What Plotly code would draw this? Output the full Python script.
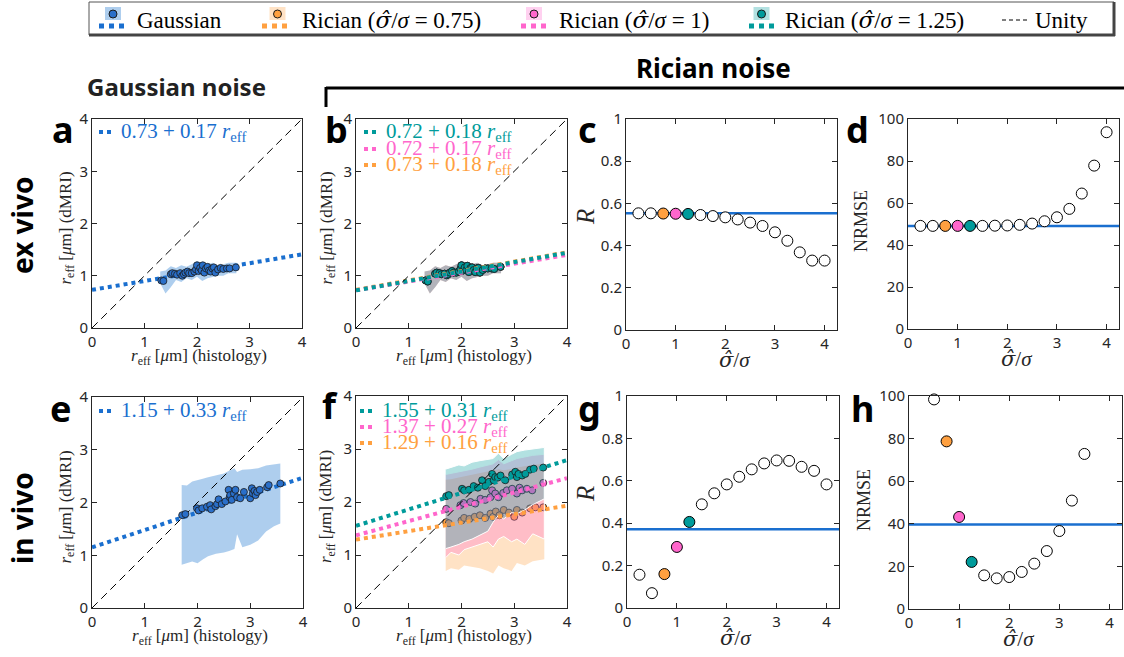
import numpy as np
import plotly.graph_objects as go

W, H = 1124, 657

# ---------------- data ----------------
# ex vivo: histology r_eff vs dMRI r_eff (Gaussian noise)
hist_ex = [1.32, 1.36, 1.50, 1.53, 1.58, 1.62, 1.68, 1.72, 1.75, 1.78, 1.82, 1.85,
           1.90, 1.95, 1.98, 2.00, 2.03, 2.06, 2.09, 2.11, 2.14, 2.17, 2.20, 2.23,
           2.26, 2.29, 2.32, 2.35, 2.40, 2.45, 2.50, 2.57, 2.62, 2.74]
gauss_ex = [0.91, 0.90, 1.03, 1.05, 1.04, 1.02, 1.05, 1.00, 1.03, 1.06, 1.08, 1.05,
            1.05, 1.08, 1.12, 1.20, 1.09, 1.15, 1.10, 1.20, 1.06, 1.14, 1.17, 1.10,
            1.08, 1.14, 1.16, 1.06, 1.12, 1.15, 1.13, 1.14, 1.14, 1.16]
rician_ex = [0.91, 0.89, 1.04, 1.06, 1.05, 1.03, 1.04, 1.01, 1.03, 1.06, 1.09, 1.06,
             1.06, 1.08, 1.13, 1.20, 1.10, 1.16, 1.11, 1.19, 1.07, 1.15, 1.16, 1.11,
             1.07, 1.14, 1.15, 1.06, 1.11, 1.14, 1.14, 1.14, 1.13, 1.17]
band_ex_x = [1.30, 1.40, 1.50, 1.60, 1.70, 1.80, 1.90, 2.00, 2.10, 2.20, 2.30, 2.40, 2.50, 2.60, 2.75]
band_ex_hi = [1.08, 1.10, 1.18, 1.15, 1.20, 1.17, 1.22, 1.28, 1.25, 1.22, 1.25, 1.20, 1.22, 1.25, 1.25]
band_ex_lo = [0.85, 0.66, 0.78, 0.92, 0.88, 0.95, 0.92, 0.98, 0.90, 0.95, 0.98, 1.00, 1.00, 1.05, 1.05]

# in vivo
hist_iv = [1.71, 1.77, 1.99, 2.02, 2.09, 2.18, 2.24, 2.26, 2.34, 2.37, 2.40, 2.46,
           2.53, 2.59, 2.61, 2.62, 2.65, 2.69, 2.72, 2.75, 2.81, 2.88, 3.00, 3.03,
           3.05, 3.08, 3.10, 3.13, 3.18, 3.32, 3.35, 3.57]
gauss_iv = [1.76, 1.78, 1.89, 1.85, 1.89, 1.92, 1.95, 1.87, 1.93, 1.97, 2.06, 1.97,
            2.02, 2.24, 2.10, 2.14, 2.05, 2.17, 2.24, 2.10, 2.08, 2.20, 2.08, 2.27,
            2.17, 2.22, 2.14, 2.20, 2.24, 2.29, 2.33, 2.36]
band_iv_x = [1.70, 1.80, 1.90, 2.00, 2.10, 2.20, 2.35, 2.50, 2.60, 2.70, 2.75, 2.85, 3.00, 3.15, 3.30, 3.45, 3.57]
band_iv_hi = [2.33, 2.32, 2.40, 2.42, 2.45, 2.48, 2.52, 2.55, 2.60, 2.65, 2.58, 2.62, 2.63, 2.65, 2.70, 2.72, 2.74]
band_iv_lo = [0.82, 0.85, 0.88, 0.85, 0.92, 0.98, 1.03, 1.05, 1.08, 1.12, 1.40, 1.15, 1.20, 1.28, 1.45, 1.55, 1.60]

ric125_x = [1.71, 1.76, 2.01, 2.05, 2.14, 2.23, 2.31, 2.39, 2.45, 2.52, 2.58, 2.61, 2.64,
            2.69, 2.74, 2.83, 2.96, 3.02, 3.05, 3.08, 3.15, 3.21, 3.30, 3.37, 3.55]
ric125_y = [2.11, 2.13, 2.25, 2.22, 2.23, 2.30, 2.27, 2.41, 2.30, 2.38, 2.53, 2.41, 2.47,
            2.46, 2.50, 2.41, 2.52, 2.57, 2.47, 2.53, 2.50, 2.53, 2.61, 2.63, 2.65]
ric100_x = [1.71, 1.98, 2.04, 2.17, 2.26, 2.36, 2.45, 2.55, 2.58, 2.64, 2.70, 2.79, 2.86,
            2.96, 3.05, 3.10, 3.15, 3.24, 3.34, 3.55]
ric100_y = [1.87, 1.94, 1.98, 2.00, 1.97, 2.06, 2.04, 2.09, 2.22, 2.16, 2.09, 2.17, 2.22,
            2.25, 2.16, 2.27, 2.22, 2.25, 2.22, 2.36]
ric075_x = [1.71, 1.76, 2.00, 2.05, 2.15, 2.25, 2.35, 2.45, 2.55, 2.60, 2.65, 2.72, 2.80,
            2.90, 3.00, 3.05, 3.15, 3.30, 3.40, 3.55]
ric075_y = [1.62, 1.60, 1.65, 1.70, 1.68, 1.72, 1.75, 1.70, 1.78, 1.72, 1.82, 1.75, 1.85,
            1.80, 1.72, 1.85, 1.80, 1.88, 1.90, 1.90]
band_f_x = [1.70, 1.80, 1.95, 2.05, 2.20, 2.35, 2.50, 2.60, 2.70, 2.80, 2.95, 3.05, 3.20, 3.35, 3.57]
band125_hi = [2.62, 2.65, 2.70, 2.68, 2.75, 2.78, 2.80, 2.82, 2.92, 2.82, 2.90, 2.95, 2.98, 3.00, 3.03]
band125_lo = [1.12, 1.15, 1.20, 1.25, 1.30, 1.38, 1.45, 1.62, 1.75, 1.68, 1.80, 1.78, 1.85, 1.95, 2.06]
band100_hi = [2.52, 2.54, 2.57, 2.58, 2.62, 2.66, 2.70, 2.72, 2.80, 2.72, 2.78, 2.82, 2.85, 2.88, 2.90]
band100_lo = [0.95, 1.05, 1.00, 1.10, 1.15, 1.20, 1.25, 1.15, 1.30, 1.35, 1.25, 1.30, 1.20, 1.40, 1.30]
band075_hi = [2.42, 2.43, 2.46, 2.48, 2.52, 2.55, 2.58, 2.60, 2.62, 2.60, 2.62, 2.65, 2.68, 2.70, 2.72]
band075_lo = [0.70, 0.75, 0.72, 0.80, 0.78, 0.75, 0.70, 0.65, 0.80, 0.75, 0.70, 0.85, 0.80, 0.88, 0.92]

# linear fits: (intercept, slope)
fit_a = (0.73, 0.17)
fit_b = {"1.25": (0.72, 0.18), "1": (0.72, 0.17), "0.75": (0.73, 0.18)}
fit_e = (1.15, 0.33)
fit_f = {"1.25": (1.55, 0.31), "1": (1.37, 0.27), "0.75": (1.29, 0.16)}

# correlation / error vs noise ratio
ratio = [0.25, 0.5, 0.75, 1.0, 1.25, 1.5, 1.75, 2.0, 2.25, 2.5, 2.75, 3.0, 3.25, 3.5, 3.75, 4.0]
R_ex = [0.553, 0.553, 0.552, 0.551, 0.550, 0.545, 0.540, 0.534, 0.524, 0.509, 0.493, 0.463, 0.423, 0.368, 0.329, 0.329]
R_ex_gauss = 0.553
NRMSE_ex = [49.1, 49.1, 49.1, 49.1, 49.1, 49.1, 49.2, 49.3, 49.6, 50.2, 51.3, 53.2, 57.2, 64.5, 77.8, 93.7]
NRMSE_ex_gauss = 49.0
R_iv = [0.157, 0.070, 0.160, 0.288, 0.406, 0.489, 0.541, 0.583, 0.619, 0.654, 0.682, 0.696, 0.694, 0.666, 0.647, 0.583]
R_iv_gauss = 0.372
ratio_h = [0.5, 0.75, 1.0, 1.25, 1.5, 1.75, 2.0, 2.25, 2.5, 2.75, 3.0, 3.25, 3.5]
NRMSE_iv = [98.4, 78.7, 43.2, 22.1, 15.8, 14.4, 15.0, 17.4, 21.3, 27.2, 36.6, 50.9, 72.8]
NRMSE_iv_gauss = 39.7

# ---------------- styling ----------------
BLUE = "#1a6fcf"
BLUE_PT = "#2a6fc9"
TEAL = "#009b9b"
PINK = "#ff66cc"
ORANGE = "#ffa040"
BAND_BLUE = "rgba(31,119,208,0.36)"
BAND_TEAL = "rgba(0,155,155,0.30)"
BAND_PINK = "rgba(255,102,204,0.30)"
BAND_ORANGE = "rgba(255,160,64,0.30)"
INK = "#262626"
SERIF = "Liberation Serif"
SANS = "Noto Sans"

def fx(px):
    return px / W

def fy(py):
    return 1 - py / H

# axis boxes in pixel coordinates: (left, right, top, bottom)
boxes = {
    1: (92, 302, 119, 328),
    2: (356, 567, 119, 328),
    3: (626, 837, 119, 330),
    4: (908, 1119, 119, 329),
    5: (92, 303, 397, 608),
    6: (356, 567, 396, 608),
    7: (627, 839, 396, 608),
    8: (909, 1122, 396, 609),
}
ranges = {
    1: ([0, 4], [0, 4], 1, 1),
    2: ([0, 4], [0, 4], 1, 1),
    3: ([0, 4.25], [0, 1], 1, 0.2),
    4: ([0, 4.25], [0, 100], 1, 20),
    5: ([0, 4], [0, 4], 1, 1),
    6: ([0, 4], [0, 4], 1, 1),
    7: ([0, 4.25], [0, 1], 1, 0.2),
    8: ([0, 4.25], [0, 100], 1, 20),
}

fig = go.Figure()
layout = dict(
    width=W, height=H, margin=dict(l=0, r=0, t=0, b=0, pad=0, autoexpand=False),
    paper_bgcolor="white", plot_bgcolor="white", showlegend=False,
)

for k, (l, r, t, b) in boxes.items():
    xr, yr, dx, dy = ranges[k]
    common = dict(showline=True, linecolor=INK, linewidth=1, mirror="allticks",
                  ticks="inside", ticklen=5, tickwidth=1, tickcolor=INK,
                  showgrid=False, zeroline=False, automargin=False,
                  tickfont=dict(family=SANS, size=15, color=INK))
    sx = "" if k == 1 else str(k)
    layout["xaxis" + sx] = dict(domain=[fx(l), fx(r)], range=xr, dtick=dx, tick0=0,
                                anchor="y" + sx, **common)
    layout["yaxis" + sx] = dict(domain=[fy(b), fy(t)], range=yr, dtick=dy, tick0=0,
                                anchor="x" + sx, **common)

def ax(k):
    s = "" if k == 1 else str(k)
    return dict(xaxis="x" + s, yaxis="y" + s)

def band(k, xs, hi, lo, color, edge=None):
    fig.add_trace(go.Scatter(
        x=list(xs) + list(xs)[::-1], y=list(hi) + list(lo)[::-1],
        fill="toself", fillcolor=color, mode="lines",
        line=dict(width=1 if edge else 0, color=edge or "rgba(0,0,0,0)"),
        hoverinfo="skip", **ax(k)))

def points(k, xs, ys, color, size=7):
    fig.add_trace(go.Scatter(
        x=xs, y=ys, mode="markers",
        marker=dict(size=size, color=color, line=dict(color="#1a1a1a", width=0.8)),
        **ax(k)))

def fit_line(k, coef, color):
    xs = np.array([0.0, 4.0])
    fig.add_trace(go.Scatter(x=xs, y=coef[0] + coef[1] * xs, mode="lines",
                             line=dict(color=color, width=4, dash="dot"), **ax(k)))

def unity(k):
    fig.add_trace(go.Scatter(x=[0, 4], y=[0, 4], mode="lines",
                             line=dict(color="black", width=1, dash="8px,5px"), **ax(k)))

def hline(k, val, xmax=4.25):
    fig.add_trace(go.Scatter(x=[0, xmax], y=[val, val], mode="lines",
                             line=dict(color=BLUE, width=2.5), **ax(k)))

def ratio_markers(k, xs, ys):
    fills = []
    for x in xs:
        if x == 0.75:
            fills.append(ORANGE)
        elif x == 1.0:
            fills.append(PINK)
        elif x == 1.25:
            fills.append(TEAL)
        else:
            fills.append("white")
    fig.add_trace(go.Scatter(x=xs, y=ys, mode="markers", cliponaxis=False,
                             marker=dict(size=11, color=fills, line=dict(color="black", width=1)),
                             **ax(k)))

# panel a
band(1, band_ex_x, band_ex_hi, band_ex_lo, BAND_BLUE)
fit_line(1, fit_a, BLUE)
unity(1)
points(1, hist_ex, gauss_ex, BLUE_PT)

# panel b
band(2, band_ex_x, band_ex_hi, band_ex_lo, BAND_ORANGE)
points(2, hist_ex, rician_ex, ORANGE)
band(2, band_ex_x, band_ex_hi, band_ex_lo, BAND_PINK)
points(2, hist_ex, rician_ex, PINK)
band(2, band_ex_x, band_ex_hi, band_ex_lo, BAND_TEAL)
points(2, hist_ex, rician_ex, TEAL)
fit_line(2, fit_b["0.75"], ORANGE)
fit_line(2, fit_b["1"], PINK)
fit_line(2, fit_b["1.25"], TEAL)
unity(2)

# panel c, d
hline(3, R_ex_gauss)
ratio_markers(3, ratio, R_ex)
hline(4, NRMSE_ex_gauss)
ratio_markers(4, ratio, NRMSE_ex)

# panel e
band(5, band_iv_x, band_iv_hi, band_iv_lo, BAND_BLUE)
fit_line(5, fit_e, BLUE)
unity(5)
points(5, hist_iv, gauss_iv, BLUE_PT)

# panel f
band(6, band_f_x, band075_hi, band075_lo, BAND_ORANGE)
points(6, ric075_x, ric075_y, ORANGE)
band(6, band_f_x, band100_hi, band100_lo, BAND_PINK, edge="white")
points(6, ric100_x, ric100_y, PINK)
band(6, band_f_x, band125_hi, band125_lo, BAND_TEAL, edge="white")
points(6, ric125_x, ric125_y, TEAL)
fit_line(6, fit_f["0.75"], ORANGE)
fit_line(6, fit_f["1"], PINK)
fit_line(6, fit_f["1.25"], TEAL)
unity(6)

# panel g, h
hline(7, R_iv_gauss)
ratio_markers(7, ratio, R_iv)
hline(8, NRMSE_iv_gauss)
ratio_markers(8, ratio_h, NRMSE_iv)

# ---------------- annotations ----------------
anns = []
def text(t, px, py, size, family=SERIF, color=INK, xanchor="center", yanchor="middle", angle=0):
    anns.append(dict(text=t, x=fx(px), y=fy(py), xref="paper", yref="paper",
                     showarrow=False, xanchor=xanchor, yanchor=yanchor, textangle=angle,
                     font=dict(family=family, size=size, color=color)))

REFF = "<i>r</i><sub>eff</sub>"
XT = REFF + " [<i>μ</i>m] (histology)"
YT = REFF + " [<i>μ</i>m] (dMRI)"
SIG = "<span style=\"font-family:'DejaVu Serif'\"><i>σ̂</i></span>/<i>σ</i>"

# axis titles
for k in (1, 2, 5, 6):
    l, r, t, b = boxes[k]
    text(XT, (l + r) / 2 + 2, b + 29, 17)
for k, xp in ((1, 66), (2, 327), (5, 66), (6, 327)):
    l, r, t, b = boxes[k]
    text(YT, xp, (t + b) / 2 + 5, 17, angle=-90)
for k in (3, 4, 7, 8):
    l, r, t, b = boxes[k]
    text(SIG, (l + r) / 2 + 3, b + 30, 21)
text("<i>R</i>", 585, 217, 25, angle=-90)
text("<i>R</i>", 585, 494, 25, angle=-90)
text("NRMSE", 861, 221, 18, angle=-90)
text("NRMSE", 864, 500, 18, angle=-90)

# panel letters
for ch, px, py in (("a", 63, 129), ("b", 336, 129), ("c", 587, 129), ("d", 857, 129),
                   ("e", 61, 408), ("f", 330, 405), ("g", 589, 408), ("h", 862, 408)):
    text("<b>" + ch + "</b>", px, py, 36, family=SANS, color="black")

# group headers and row labels
text("<b>Gaussian noise</b>", 176, 86, 24, family=SANS, color="#222222")
text("<b>Rician noise</b>", 713, 68, 26, family=SANS, color="black")
text("<b>ex vivo</b>", 22, 226, 28, family=SANS, color="black", angle=-90)
text("<b>in vivo</b>", 22, 518, 28, family=SANS, color="black", angle=-90)

# fit labels inside panels
shapes = []
def dotted_sample(x0, x1, py, color):
    shapes.append(dict(type="line", xref="paper", yref="paper", x0=fx(x0), x1=fx(x1),
                       y0=fy(py), y1=fy(py), line=dict(color=color, width=4, dash="dot")))

def fit_label(coef, x0, py, color):
    dotted_sample(x0, x0 + 16, py, color)
    text("%.2f + %.2f " % coef + REFF, x0 + 20, py, 21, color=color, xanchor="left")

fit_label(fit_a, 99, 132, BLUE)
fit_label(fit_b["1.25"], 364, 132, TEAL)
fit_label(fit_b["1"], 364, 149, PINK)
fit_label(fit_b["0.75"], 364, 165, ORANGE)
fit_label(fit_e, 99, 411, BLUE)
fit_label(fit_f["1.25"], 360, 411, TEAL)
fit_label(fit_f["1"], 360, 427, PINK)
fit_label(fit_f["0.75"], 360, 443, ORANGE)

# Rician bracket
for x0, y0, x1, y1 in ((326, 88, 1127, 88), (326, 87, 326, 107), (1127, 87, 1127, 105)):
    shapes.append(dict(type="line", xref="paper", yref="paper", x0=fx(x0), x1=fx(x1),
                       y0=fy(y0), y1=fy(y1), line=dict(color="black", width=3)))

# legend box
shapes.append(dict(type="rect", xref="paper", yref="paper", x0=fx(89), x1=fx(1114),
                   y0=fy(35), y1=fy(2), line=dict(color="#555555", width=1), fillcolor="white"))
shapes.append(dict(type="line", xref="paper", yref="paper", x0=fx(89), x1=fx(1115),
                   y0=fy(35), y1=fy(35), line=dict(color="#444444", width=3)))
shapes.append(dict(type="line", xref="paper", yref="paper", x0=fx(1114), x1=fx(1114),
                   y0=fy(2), y1=fy(36), line=dict(color="#444444", width=3)))

legend_items = [
    ("Gaussian", 113, 99, 126, 135, BAND_BLUE, BLUE_PT, BLUE),
    ("Rician (" + SIG + " = 0.75)", 277.5, 262, 289, 300, BAND_ORANGE, ORANGE, ORANGE),
    ("Rician (" + SIG + " = 1)", 534, 521, 548, 557, BAND_PINK, PINK, PINK),
    ("Rician (" + SIG + " = 1.25)", 761.5, 749, 776, 783, BAND_TEAL, TEAL, TEAL),
]
for label, cx, d0, d1, tx, bandc, ptc, linec in legend_items:
    shapes.append(dict(type="rect", xref="paper", yref="paper", x0=fx(cx - 8), x1=fx(cx + 8),
                       y0=fy(20), y1=fy(7), line=dict(width=0), fillcolor=bandc))
    shapes.append(dict(type="circle", xref="paper", yref="paper", x0=fx(cx - 4), x1=fx(cx + 4),
                       y0=fy(18), y1=fy(10), line=dict(color="#1a1a1a", width=1), fillcolor=ptc))
    shapes.append(dict(type="line", xref="paper", yref="paper", x0=fx(d0), x1=fx(d1),
                       y0=fy(26), y1=fy(26), line=dict(color=linec, width=5, dash="dot")))
    text(label, tx, 20, 23, color="black", xanchor="left")

shapes.append(dict(type="line", xref="paper", yref="paper", x0=fx(1002), x1=fx(1028),
                   y0=fy(20), y1=fy(20), line=dict(color="black", width=1, dash="4px,3px")))
text("Unity", 1033, 20, 23, color="black", xanchor="left")

layout["annotations"] = anns
layout["shapes"] = shapes
fig.update_layout(**layout)
fig.write_html("out.html")
